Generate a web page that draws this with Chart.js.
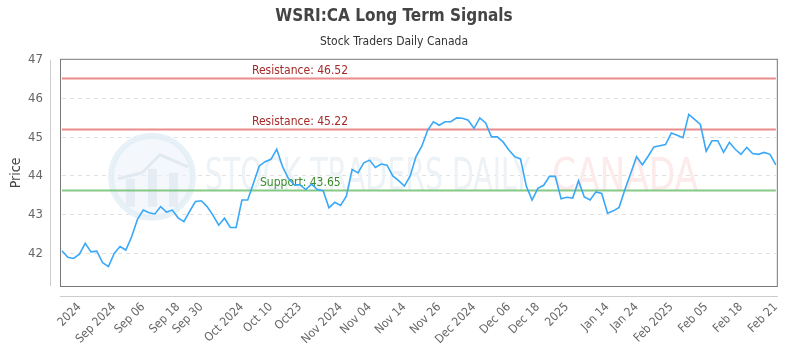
<!DOCTYPE html>
<html>
<head>
<meta charset="utf-8">
<script src="https://cdn.jsdelivr.net/npm/chart.js@4/dist/chart.umd.min.js"></script>
<style>
  html, body { margin: 0; padding: 0; background: #fff; }
  #wrap { width: 800px; height: 350px; position: relative; }
</style>
</head>
<body>
<div id="wrap"><canvas id="signalsChart"></canvas></div>
<script>
// closing prices, one per session
const prices = [
  42.07, 41.90, 41.87, 41.98, 42.26, 42.04, 42.06, 41.76, 41.66, 42.00,
  42.18, 42.09, 42.43, 42.88, 43.12, 43.05, 43.02, 43.21, 43.07, 43.12,
  42.92, 42.82, 43.09, 43.34, 43.36, 43.21, 42.99, 42.73, 42.91, 42.67,
  42.67, 43.38, 43.38, 43.82, 44.26, 44.37, 44.43, 44.69, 44.24, 43.94,
  43.77, 43.77, 43.65, 43.79, 43.65, 43.62, 43.18, 43.32, 43.24, 43.48,
  44.17, 44.08, 44.34, 44.41, 44.22, 44.31, 44.28, 44.00, 43.88, 43.74,
  44.00, 44.50, 44.77, 45.18, 45.40, 45.31, 45.40, 45.40, 45.50, 45.49,
  45.44, 45.23, 45.50, 45.37, 45.01, 45.01, 44.88, 44.67, 44.50, 44.44,
  43.74, 43.38, 43.68, 43.76, 43.99, 43.99, 43.41, 43.45, 43.43, 43.88,
  43.46, 43.38, 43.59, 43.55, 43.04, 43.10, 43.19, 43.65, 44.07, 44.50,
  44.29, 44.51, 44.75, 44.78, 44.81, 45.11, 45.05, 44.99, 45.59, 45.46,
  45.33, 44.64, 44.91, 44.91, 44.61, 44.87, 44.69, 44.56, 44.74, 44.58,
  44.56, 44.61, 44.56, 44.29
];

// x axis labels and the session index they sit on
const tickIndex = [3, 9, 14, 20, 24, 31, 36, 41, 48, 53, 59, 65, 71, 77, 82, 87, 94, 99, 105, 111, 117, 123];
const tickText = ['2024', 'Sep 2024', 'Sep 06', 'Sep 18', 'Sep 30', 'Oct 2024', 'Oct 10', 'Oct23',
  'Nov 2024', 'Nov 04', 'Nov 14', 'Nov 26', 'Dec 2024', 'Dec 06', 'Dec 18', '2025',
  'Jan 14', 'Jan 24', 'Feb 2025', 'Feb 05', 'Feb 18', 'Feb 21'];

// signal levels
const levelValues = [46.52, 45.22, 43.65];
const levelNames = ['Resistance', 'Resistance', 'Support'];

const yTicks = [42, 43, 44, 45, 46, 47];

const FONT = "'Liberation Sans Narrow', 'DejaVu Sans Condensed', 'Roboto', sans-serif";

const categories = prices.map((_, i) => {
  const k = tickIndex.indexOf(i);
  return k >= 0 ? tickText[k] : '';
});

// faint logo + text behind the line, box round the plot, levels
const decorPlugin = {
  id: 'decor',
  beforeDatasetsDraw(chart) {
    const { ctx, chartArea: a, scales } = chart;
    ctx.save();

    // watermark
    const cx = a.left + 90, cy = a.top + 117;
    ctx.beginPath();
    ctx.arc(cx, cy, 41, 0, Math.PI * 2);
    ctx.fillStyle = 'rgba(236,244,250,0.6)';
    ctx.fill();
    ctx.lineWidth = 6;
    ctx.strokeStyle = 'rgba(226,237,245,0.8)';
    ctx.stroke();
    ctx.fillStyle = 'rgba(226,234,241,0.8)';
    ctx.fillRect(cx - 26, cy + 2, 9, 28);
    ctx.fillRect(cx - 4, cy - 8, 9, 38);
    ctx.fillRect(cx + 17, cy - 4, 9, 34);
    ctx.beginPath();
    ctx.moveTo(cx - 34, cy + 2);
    ctx.lineTo(cx - 10, cy - 4);
    ctx.lineTo(cx + 8, cy - 22);
    ctx.lineTo(cx + 36, cy - 10);
    ctx.lineWidth = 3;
    ctx.strokeStyle = 'rgba(224,233,240,0.9)';
    ctx.stroke();

    ctx.font = '44px ' + FONT;
    ctx.textBaseline = 'middle';
    ctx.textAlign = 'left';
    const t1 = 'STOCK TRADERS DAILY';
    const w1 = ctx.measureText(t1).width;
    ctx.save();
    ctx.translate(a.left + 143, cy + 2);
    ctx.scale(325 / w1, 1);
    ctx.fillStyle = '#edf2f6';
    ctx.fillText(t1, 0, 0);
    ctx.restore();
    const t2 = 'CANADA';
    const w2 = ctx.measureText(t2).width;
    ctx.save();
    ctx.translate(a.left + 490, cy + 2);
    ctx.scale(146 / w2, 1);
    ctx.fillStyle = '#fdeaea';
    ctx.fillText(t2, 0, 0);
    ctx.restore();

    // plot box and detached axis lines
    ctx.lineWidth = 1;
    ctx.strokeStyle = '#777';
    ctx.strokeRect(a.left - 1.5, a.top - 0.5, a.right - a.left + 3, a.bottom - a.top + 1);
    ctx.strokeStyle = '#ccc';
    ctx.beginPath();
    ctx.moveTo(a.left - 11.5, a.top);
    ctx.lineTo(a.left - 11.5, a.bottom);
    ctx.moveTo(a.left - 2, a.bottom + 10.5);
    ctx.lineTo(a.right + 2, a.bottom + 10.5);
    ctx.stroke();

    // support / resistance lines
    const y = scales.y;
    levelValues.forEach((v, i) => {
      const py = Math.round(y.getPixelForValue(v)) + 0.5;
      const isRes = levelNames[i] === 'Resistance';
      ctx.beginPath();
      ctx.moveTo(a.left, py);
      ctx.lineTo(a.right, py);
      ctx.lineWidth = 2;
      ctx.strokeStyle = isRes ? 'rgba(232,120,120,0.85)' : 'rgba(120,195,120,0.9)';
      ctx.stroke();
      ctx.font = '12px ' + FONT;
      ctx.textBaseline = 'bottom';
      ctx.fillStyle = isRes ? '#a52a2a' : '#3a8a2a';
      ctx.fillText(levelNames[i] + ': ' + v.toFixed(2), isRes ? 252 : 260, py - 2);
    });
    ctx.restore();
  }
};

new Chart(document.getElementById('signalsChart'), {
  type: 'line',
  data: {
    labels: categories,
    datasets: [{
      data: prices,
      borderColor: '#3aa8f8',
      borderWidth: 1.6,
      pointRadius: 0,
      tension: 0,
      fill: false
    }]
  },
  options: {
    responsive: true,
    maintainAspectRatio: false,
    animation: false,
    layout: { padding: { left: 0, right: 12, top: 0, bottom: 0 } },
    plugins: {
      legend: { display: false },
      tooltip: { enabled: false },
      title: {
        display: true,
        text: 'WSRI:CA Long Term Signals',
        color: '#444',
        font: { family: FONT, size: 17, weight: 'bold' },
        padding: { top: 6, bottom: 5 }
      },
      subtitle: {
        display: true,
        text: 'Stock Traders Daily Canada',
        color: '#333',
        font: { family: FONT, size: 12 },
        padding: { top: 3, bottom: 11 }
      }
    },
    scales: {
      x: {
        grid: { display: false, drawTicks: false },
        border: { display: false },
        afterFit(scale) { scale.height = 64; },
        ticks: {
          autoSkip: false,
          maxRotation: 45,
          minRotation: 45,
          padding: 14,
          color: '#666',
          font: { family: FONT, size: 12 }
        }
      },
      y: {
        min: 41.16,
        max: 47,
        afterFit(scale) { scale.width = 62; },
        afterBuildTicks(scale) { scale.ticks = yTicks.map(v => ({ value: v })); },
        border: { display: false, dash: [4, 4] },
        grid: {
          drawTicks: false,
          color: (c) => c.tick && c.tick.value === 47 ? 'rgba(0,0,0,0)' : '#e0e0e0'
        },
        ticks: {
          padding: 19,
          color: '#666',
          font: { family: FONT, size: 13 }
        },
        title: {
          display: true,
          text: 'Price',
          color: '#444',
          font: { family: FONT, size: 14 },
          padding: { top: 8, bottom: 0 }
        }
      }
    }
  },
  plugins: [decorPlugin]
});
</script>
</body>
</html>
